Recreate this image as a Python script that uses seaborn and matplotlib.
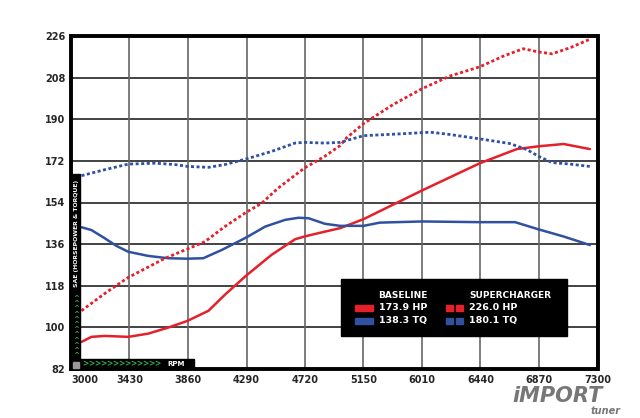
import numpy as np
import matplotlib.pyplot as plt
import seaborn as sns
from matplotlib.patches import Rectangle

# dyno sheet: baseline vs supercharger, SAE corrected
# x values sit on an evenly spaced rpm grid (430 rpm per grid line);
# the printed tick labels are copied as they are (5580 is skipped on the sheet)
tick_rpm = [3000, 3430, 3860, 4290, 4720, 5150, 5580, 6010, 6440, 6870]
tick_labels = ["3000", "3430", "3860", "4290", "4720", "5150", "6010", "6440", "6870", "7300"]
y_ticks = [82, 100, 118, 136, 154, 172, 190, 208, 226]

base_hp_rpm = [3077, 3150, 3249, 3421, 3568, 3714, 3856, 4011, 4131, 4286, 4475, 4647, 4716,
               4866, 4978, 5150, 5580, 6006, 6277, 6436, 6621, 6814]
base_hp = [93.7, 95.9, 96.3, 95.9, 97.3, 99.9, 102.8, 107.2, 114.1, 122.3, 131.4, 138.1, 139.3,
           141.4, 142.9, 146.8, 159.2, 171.0, 177.1, 178.3, 179.3, 177.1]

base_tq_rpm = [3077, 3150, 3249, 3335, 3421, 3568, 3714, 3856, 3972, 4109, 4286, 4428, 4574,
               4673, 4746, 4866, 4978, 5150, 5270, 5580, 6006, 6264, 6436, 6621, 6814]
base_tq = [143.3, 142.1, 138.5, 135.2, 132.7, 130.9, 129.9, 129.7, 129.9, 133.5, 138.8, 143.6, 146.5,
           147.4, 147.2, 144.8, 143.9, 143.9, 145.3, 145.8, 145.5, 145.5, 142.4, 139.3, 135.6]

sc_hp_rpm = [3077, 3249, 3421, 3692, 3856, 3985, 4131, 4286, 4402, 4522, 4716, 4866, 4978,
             5025, 5150, 5369, 5580, 5786, 6006, 6178, 6324, 6436, 6535, 6668, 6814]
sc_hp = [107.2, 114.7, 121.6, 129.9, 133.9, 137.1, 143.6, 149.7, 153.7, 160.2, 168.9, 174.0, 178.6,
         181.9, 188.1, 196.4, 203.2, 208.7, 212.7, 217.3, 220.5, 219.1, 218.3, 220.9, 224.6]

sc_tq_rpm = [3077, 3249, 3421, 3619, 3765, 3856, 4011, 4131, 4286, 4475, 4647, 4716, 4866,
             4978, 5150, 5395, 5640, 5761, 6006, 6225, 6350, 6436, 6535, 6668, 6814]
sc_tq = [165.6, 168.2, 170.6, 171.0, 170.4, 169.6, 169.2, 170.4, 172.8, 176.1, 179.7, 180.0, 179.7,
         180.0, 182.9, 183.6, 184.4, 183.6, 181.5, 179.5, 176.9, 174.0, 171.3, 170.6, 169.6]

legend_heads = ["BASELINE", "SUPERCHARGER"]
legend_base = ["173.9 HP", "138.3 TQ"]
legend_sc = ["226.0 HP", "180.1 TQ"]

red = "#e5202b"
blue = "#3050a0"
green = "#2fb24a"
font = ["DejaVu Sans"]

sns.set_theme(style="white")
plt.rcParams['font.family'] = font

fig = plt.figure(figsize=(6.4, 4.18), dpi=100)
W, H = 640, 418
ax = fig.add_axes([71 / W, 1 - 369 / H, 526.5 / W, 333 / H])


def fx(x):
    return x / W


def fy(y):
    return 1 - y / H


sns.lineplot(x=base_hp_rpm, y=base_hp, ax=ax, color=red, linewidth=1.8, zorder=3)
sns.lineplot(x=base_tq_rpm, y=base_tq, ax=ax, color=blue, linewidth=1.8, zorder=3)
sns.lineplot(x=sc_hp_rpm, y=sc_hp, ax=ax, color=red, linewidth=2.0, zorder=3,
             linestyle=(0, (1.1, 0.9)))
sns.lineplot(x=sc_tq_rpm, y=sc_tq, ax=ax, color=blue, linewidth=2.0, zorder=3,
             linestyle=(0, (1.1, 0.9)))

ax.set_xlim(3000, 6870)
ax.set_ylim(82, 226)
ax.set_xticks(tick_rpm)
ax.set_xticklabels(tick_labels)
ax.set_yticks(y_ticks)
ax.tick_params(axis='both', length=0, labelsize=7, pad=4)
for lab in ax.get_xticklabels() + ax.get_yticklabels():
    lab.set_fontweight('bold')
ax.get_xticklabels()[0].set_horizontalalignment('left')

# grid: horizontal darker, vertical grey
for yv in y_ticks[1:-1]:
    ax.axhline(yv, color="#222222", linewidth=1.2, zorder=1)
for xv in tick_rpm[1:]:
    ax.axvline(xv, color="#666666", linewidth=1.2, zorder=1)
for s in ax.spines.values():
    s.set_color("black")
    s.set_linewidth(2.8)
ax.set_xlabel("")
ax.set_ylabel("")

# left strip with axis title
fig.patches.append(Rectangle((fx(71), fy(369)), fx(9), 195 / H, transform=fig.transFigure,
                             color="black", zorder=5))
fig.text(fx(76.5), fy(233), "SAE (HORSEPOWER & TORQUE)", rotation=90, color="white",
         fontsize=4.4, fontweight='bold', ha='center', va='center', zorder=6)
for i in range(12):
    fig.text(fx(76.5), fy(298 + i * 5.2), "^", color=green, fontsize=5, fontweight='bold',
             ha='center', va='center', zorder=6)
fig.patches.append(Rectangle((fx(73), fy(368)), fx(6), 6 / H, transform=fig.transFigure,
                             color="#999999", zorder=6))

# bottom strip with rpm label
fig.patches.append(Rectangle((fx(71), fy(369)), fx(123), 10 / H, transform=fig.transFigure,
                             color="black", zorder=5))
for i in range(13):
    fig.text(fx(85 + i * 6), fy(364), ">", color=green, fontsize=5.5, fontweight='bold',
             ha='center', va='center', zorder=6)
fig.text(fx(176), fy(364), "RPM", color="white", fontsize=5, fontweight='bold',
         ha='center', va='center', zorder=6)

# legend box
fig.patches.append(Rectangle((fx(341), fy(336)), fx(226), 57 / H, transform=fig.transFigure,
                             color="black", zorder=5))
fig.text(fx(378), fy(295), legend_heads[0], color="white", fontsize=6.5, fontweight='bold',
         va='center', zorder=6)
fig.text(fx(469), fy(295), legend_heads[1], color="white", fontsize=6.5, fontweight='bold',
         va='center', zorder=6)
for i, (c, t1, t2) in enumerate(zip([red, blue], legend_base, legend_sc)):
    yy = 307.5 + i * 13
    fig.patches.append(Rectangle((fx(355), fy(yy + 3)), fx(18), 6 / H,
                                 transform=fig.transFigure, color=c, zorder=6))
    fig.patches.append(Rectangle((fx(446), fy(yy + 3)), fx(7), 6 / H,
                                 transform=fig.transFigure, color=c, zorder=6))
    fig.patches.append(Rectangle((fx(456), fy(yy + 3)), fx(7), 6 / H,
                                 transform=fig.transFigure, color=c, zorder=6))
    fig.text(fx(379), fy(yy), t1, color="white", fontsize=6.8, fontweight='bold',
             va='center', zorder=6)
    fig.text(fx(469), fy(yy), t2, color="white", fontsize=6.8, fontweight='bold',
             va='center', zorder=6)

# magazine logo
fig.text(fx(558), fy(396), "iMPORT", color="#777777", fontsize=15, fontweight='heavy',
         fontstyle='italic', ha='center', va='center')
fig.text(fx(606), fy(410.5), "tuner", color="#777777", fontsize=7, fontweight='bold',
         fontstyle='italic', ha='center', va='center')

fig.savefig("out.png", dpi=100)
